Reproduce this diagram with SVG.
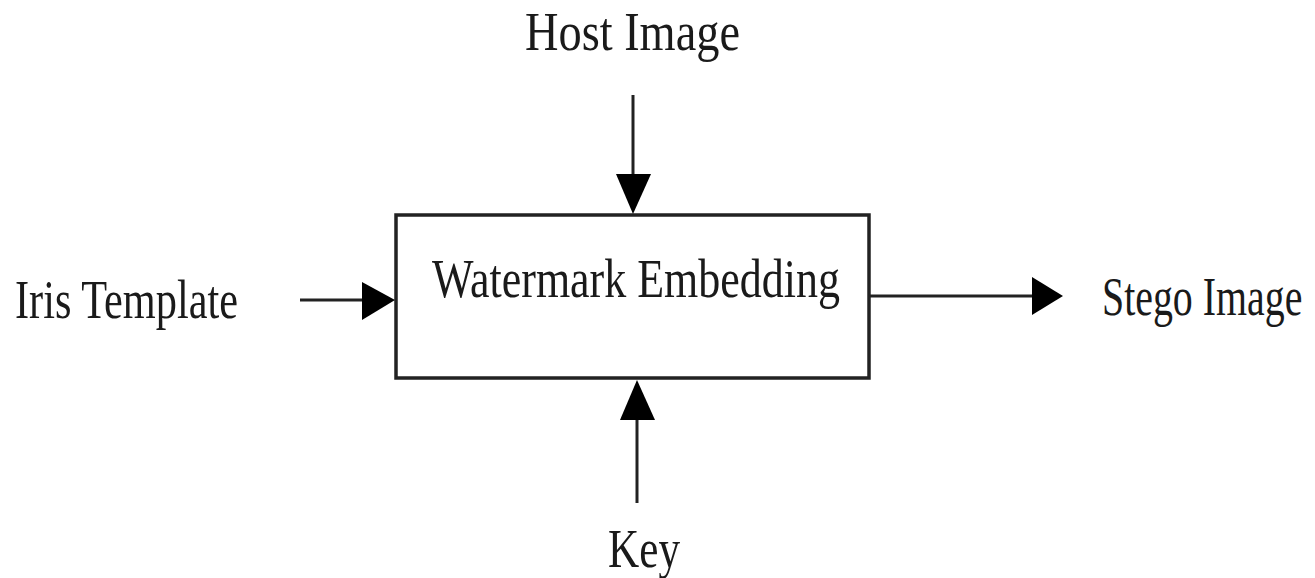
<svg xmlns="http://www.w3.org/2000/svg" width="1315" height="578" viewBox="0 0 1315 578">
<style>
.t{font-family:"Liberation Serif","Times New Roman",serif;font-size:55px;fill:#1a1a1a}
.c{stroke:#222;stroke-width:3;fill:none}
.h{fill:#000}
</style>
<rect width="1315" height="578" fill="#fff"/>
<g id="box">
<rect x="396" y="215" width="473" height="163" fill="#fff" stroke="#222" stroke-width="3.5"/>
<text class="t" x="432" y="297" textLength="408" lengthAdjust="spacingAndGlyphs">Watermark Embedding</text>
</g>
<g id="host"><text class="t" x="525" y="50" textLength="215" lengthAdjust="spacingAndGlyphs">Host Image</text></g>
<g id="iris"><text class="t" x="15" y="318" textLength="223" lengthAdjust="spacingAndGlyphs">Iris Template</text></g>
<g id="stego"><text class="t" transform="translate(1102,315) scale(0.725,1)" x="0" y="0">Stego Image</text></g>
<g id="key"><text class="t" x="608" y="567" textLength="72" lengthAdjust="spacingAndGlyphs">Key</text></g>
<g id="connectors">
<line class="c" x1="633" y1="95" x2="633" y2="178"/>
<polygon class="h" points="616,174 651,174 633,214"/>
<line class="c" x1="637" y1="503" x2="637" y2="415"/>
<polygon class="h" points="620,420 655,420 637,380"/>
<line class="c" x1="300" y1="300" x2="366" y2="300"/>
<polygon class="h" points="362,282 362,320 395,300"/>
<line class="c" x1="870" y1="296" x2="1036" y2="296"/>
<polygon class="h" points="1032,277 1032,315 1063,296"/>
</g>
</svg>
